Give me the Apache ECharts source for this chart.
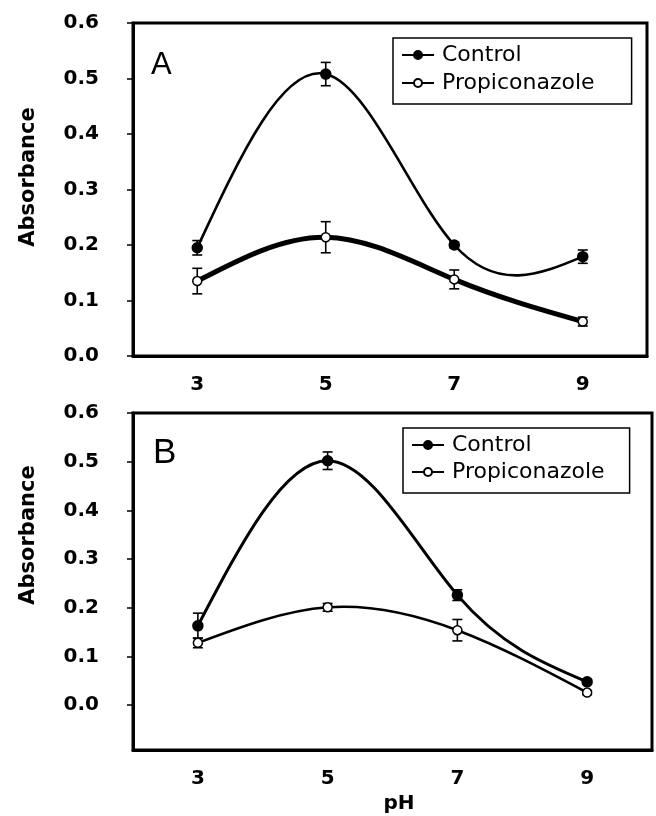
<!DOCTYPE html>
<html>
<head>
<meta charset="utf-8">
<script src="https://cdn.jsdelivr.net/npm/echarts@6/dist/echarts.min.js"></script>
<style>
  html, body { margin: 0; padding: 0; background: #fff; }
  #main { width: 656px; height: 816px; }
</style>
</head>
<body>
<div id="main"></div>
<script>
// pH values (x axis)
const phLabels = ['3', '5', '7', '9']
const yTicks = [0, 0.1, 0.2, 0.3, 0.4, 0.5, 0.6]

// panel A
const controlA = [0.195, 0.508, 0.200, 0.179]
const controlAErr = [0.013, 0.021, 0.005, 0.012]
const propiA = [0.135, 0.214, 0.138, 0.062]
const propiAErr = [0.023, 0.028, 0.017, 0.008]

// panel B
const controlB = [0.163, 0.502, 0.226, 0.048]
const controlBErr = [0.026, 0.018, 0.011, 0.005]
const propiB = [0.128, 0.201, 0.154, 0.026]
const propiBErr = [0.010, 0.008, 0.022, 0.004]

const FONT = 'DejaVu Sans'

// error bars as [index, low, high]
const errData = function (vals, errs) {
  return vals.map((v, i) => [i, v - errs[i], v + errs[i]])
}

const renderErr = function (params, api) {
  const lo = api.coord([api.value(0), api.value(1)])
  const hi = api.coord([api.value(0), api.value(2)])
  const cap = 5
  const style = { stroke: '#000', lineWidth: 1.6 }
  return {
    type: 'group',
    children: [
      { type: 'line', shape: { x1: lo[0], y1: lo[1], x2: hi[0], y2: hi[1] }, style },
      { type: 'line', shape: { x1: lo[0] - cap, y1: lo[1], x2: lo[0] + cap, y2: lo[1] }, style },
      { type: 'line', shape: { x1: hi[0] - cap, y1: hi[1], x2: hi[0] + cap, y2: hi[1] }, style }
    ]
  }
}

// natural cubic spline second derivatives (unit spacing)
const splineM = function (y) {
  const n = y.length
  const M = new Array(n).fill(0)
  if (n < 3) return M
  const a = [], b = [], c = [], d = []
  for (let i = 1; i < n - 1; i++) {
    a.push(1); b.push(4); c.push(1)
    d.push(6 * (y[i - 1] - 2 * y[i] + y[i + 1]))
  }
  // thomas algorithm
  const m = b.length
  for (let i = 1; i < m; i++) {
    const w = a[i] / b[i - 1]
    b[i] -= w * c[i - 1]
    d[i] -= w * d[i - 1]
  }
  M[m] = d[m - 1] / b[m - 1]
  for (let i = m - 2; i >= 0; i--) {
    M[i + 1] = (d[i] - c[i] * M[i + 2]) / b[i]
  }
  return M
}

const curveSeries = function (idx, vals, width) {
  const M = splineM(vals)
  return {
    type: 'custom',
    xAxisIndex: idx,
    yAxisIndex: idx,
    data: vals.map((v, i) => [i, v]),
    z: 4,
    silent: true,
    renderItem: function (params, api) {
      const i = params.dataIndex
      if (i >= vals.length - 1) return null
      const dy = vals[i + 1] - vals[i]
      const s0 = dy - (2 * M[i] + M[i + 1]) / 6
      const s1 = dy + (M[i] + 2 * M[i + 1]) / 6
      const p0 = api.coord([i, vals[i]])
      const p1 = api.coord([i + 1, vals[i + 1]])
      const c0 = api.coord([i, vals[i] + s0 / 3])
      const c1 = api.coord([i + 1, vals[i + 1] - s1 / 3])
      const dx = p1[0] - p0[0]
      return {
        type: 'bezierCurve',
        shape: {
          x1: p0[0], y1: p0[1], x2: p1[0], y2: p1[1],
          cpx1: p0[0] + dx / 3, cpy1: c0[1],
          cpx2: p1[0] - dx / 3, cpy2: c1[1]
        },
        style: { stroke: '#000', lineWidth: width, fill: null }
      }
    }
  }
}

const xAxisFor = function (gridIndex) {
  return {
    type: 'category',
    gridIndex,
    data: phLabels,
    boundaryGap: true,
    axisLine: { onZero: false, lineStyle: { color: '#000', width: 3 } },
    axisTick: { alignWithLabel: true, length: 6, lineStyle: { color: '#000', width: 1.5 } },
    axisLabel: { margin: 19, fontFamily: FONT, fontWeight: 'bold', fontSize: 20, color: '#000' },
    splitLine: { show: false }
  }
}

const yAxisFor = function (gridIndex, min) {
  return {
    type: 'value',
    gridIndex,
    min,
    max: 0.6,
    axisLine: { show: true, onZero: false, lineStyle: { color: '#000', width: 3 } },
    axisTick: { show: true, length: 6, customValues: yTicks, lineStyle: { color: '#000', width: 1.5 } },
    axisLabel: {
      margin: 34,
      customValues: yTicks,
      fontFamily: FONT, fontWeight: 'bold', fontSize: 20, color: '#000',
      formatter: v => v.toFixed(1)
    },
    splitLine: { show: false }
  }
}

const markerSeries = function (name, idx, data, filled) {
  return {
    name,
    type: 'line',
    xAxisIndex: idx,
    yAxisIndex: idx,
    data,
    symbol: 'circle',
    symbolSize: filled ? 10 : 9,
    z: 5,
    lineStyle: { color: '#000', width: 2, opacity: 0 },
    itemStyle: { color: filled ? '#000' : '#fff', borderColor: '#000', borderWidth: 1.5 }
  }
}

const errSeries = function (idx, vals, errs) {
  return {
    type: 'custom',
    xAxisIndex: idx,
    yAxisIndex: idx,
    data: errData(vals, errs),
    renderItem: renderErr,
    z: 3,
    silent: true
  }
}

const legendFor = function (left, top, padRight, gap) {
  return {
    orient: 'vertical',
    left, top,
    data: ['Control', 'Propiconazole'],
    itemWidth: 32,
    itemHeight: 10,
    itemGap: gap,
    padding: [6, padRight, 10, 8],
    borderColor: '#000',
    borderWidth: 1.5,
    borderRadius: 0,
    backgroundColor: '#fff',
    selectedMode: false,
    lineStyle: { width: 2, color: '#000', opacity: 1 },
    textStyle: { fontFamily: FONT, fontSize: 22, color: '#000', padding: [0, 0, 0, 3] }
  }
}

const axisTitle = function (text, x, y, vertical) {
  return {
    type: 'text',
    x, y,
    rotation: vertical ? Math.PI / 2 : 0,
    style: {
      text,
      fontFamily: FONT, fontWeight: 'bold', fontSize: vertical ? 21 : 20, fill: '#000',
      textAlign: 'center', textVerticalAlign: 'middle'
    }
  }
}

const chart = echarts.init(document.getElementById('main'))
chart.setOption({
  animation: false,
  backgroundColor: '#fff',
  grid: [
    { left: 133, top: 23, width: 514, height: 333, show: true, borderColor: '#000', borderWidth: 3 },
    { left: 133, top: 413, width: 519, height: 337, show: true, borderColor: '#000', borderWidth: 3 }
  ],
  xAxis: [xAxisFor(0), xAxisFor(1)],
  yAxis: [yAxisFor(0, 0), yAxisFor(1, -0.092)],
  legend: [legendFor(393, 38, 37, 6), legendFor(403, 428, 25, 5)],
  graphic: [
    { type: 'text', left: 151, top: 50, style: { text: 'A', fontFamily: 'Liberation Sans', fontSize: 31, fill: '#000' } },
    { type: 'text', left: 153, top: 436, style: { text: 'B', fontFamily: 'Liberation Sans', fontSize: 35, fill: '#000' } },
    axisTitle('Absorbance', 29, 177, true),
    axisTitle('Absorbance', 29, 535, true),
    axisTitle('pH', 399, 804, false)
  ],
  series: [
    errSeries(0, controlA, controlAErr),
    errSeries(0, propiA, propiAErr),
    curveSeries(0, controlA, 2.6),
    curveSeries(0, propiA, 5),
    markerSeries('Control', 0, controlA, true),
    markerSeries('Propiconazole', 0, propiA, false),
    errSeries(1, controlB, controlBErr),
    errSeries(1, propiB, propiBErr),
    curveSeries(1, controlB, 3),
    curveSeries(1, propiB, 2.6),
    markerSeries('Control', 1, controlB, true),
    markerSeries('Propiconazole', 1, propiB, false)
  ]
})
</script>
</body>
</html>
